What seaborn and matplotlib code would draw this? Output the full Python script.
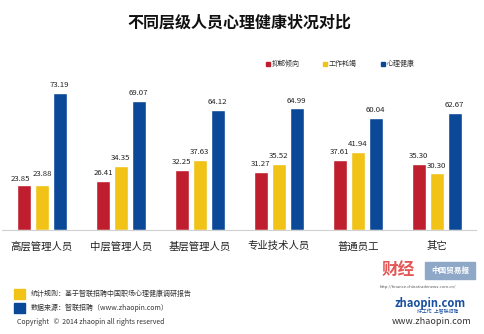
import matplotlib
matplotlib.use("Agg")
import matplotlib.pyplot as plt
import seaborn as sns
import pandas as pd
from matplotlib.patches import Rectangle

categories = ["高层管理人员", "中层管理人员", "基层管理人员", "专业技术人员", "普通员工", "其它"]
series_names = ["抑郁倾向", "工作耗竭", "心理健康"]
depression = [23.85, 26.41, 32.25, 31.27, 37.61, 35.30]
burnout = [23.88, 34.35, 37.63, 35.52, 41.94, 30.30]
health = [73.19, 69.07, 64.12, 64.99, 60.04, 62.67]
colors = ["#BE1E2D", "#F1C317", "#0B4898"]

rows = []
for name, vals in zip(series_names, [depression, burnout, health]):
    for c, v in zip(categories, vals):
        rows.append({"category": c, "series": name, "value": v})
df = pd.DataFrame(rows)

sns.set_theme(style="white")
plt.rcParams["font.family"] = ["Noto Sans CJK SC", "DejaVu Sans"]

fig = plt.figure(figsize=(4.84, 3.34), dpi=100)
fig.patch.set_facecolor("white")
ax = fig.add_axes([0.005, 0.311, 0.979, 0.449])

sns.barplot(data=df, x="category", y="value", hue="series", order=categories,
            hue_order=series_names, palette=colors, width=0.68, gap=0.2,
            saturation=1, ax=ax, legend=False)

label_sets = []
for cont in ax.containers:
    label_sets.append(ax.bar_label(cont, fmt="%.2f", fontsize=5.6, padding=2.5,
                                   color="#222222"))
# the first two labels of the first group sit very close, as in the reference
label_sets[0][0].xyann = (-2.8, 2.0)
label_sets[1][0].xyann = (0.0, 5.5)

ax.set_xlim(-0.5, 5.5)
ax.set_ylim(0, 80)
ax.set_xlabel("")
ax.set_ylabel("")
ax.set_yticks([])
ax.tick_params(axis="x", length=0, labelsize=7.5, pad=8, colors="#222222")
for s in ["top", "left", "right"]:
    ax.spines[s].set_visible(False)
ax.spines["bottom"].set_color("#D0D0D0")
ax.spines["bottom"].set_linewidth(0.8)

fig.text(0.494, 0.934, "不同层级人员心理健康状况对比", ha="center", va="center",
         fontsize=11.5, fontweight="bold", color="#111111")

# legend
leg_x = [266, 323, 381]
for lx, name, col in zip(leg_x, series_names, colors):
    fig.patches.append(Rectangle((lx / 484, 1 - 66 / 334), 4 / 484, 4 / 334,
                                 transform=fig.transFigure, color=col))
    fig.text((lx + 6) / 484, 1 - 64 / 334, name, fontsize=5, va="center",
             ha="left", color="#333333")

# footer
fig.patches.append(Rectangle((14 / 484, 1 - 299 / 334), 11 / 484, 10 / 334,
                             transform=fig.transFigure, color="#F1C317"))
fig.patches.append(Rectangle((14 / 484, 1 - 313 / 334), 11 / 484, 10 / 334,
                             transform=fig.transFigure, color="#0B4898"))
fig.text(31 / 484, 1 - 294 / 334, "统计规则：基于智联招聘中国职场心理健康调研报告",
         fontsize=5, va="center", color="#333333")
fig.text(31 / 484, 1 - 308 / 334, "数据来源：智联招聘（www.zhaopin.com）",
         fontsize=5, va="center", color="#333333")
fig.text(17 / 484, 1 - 322 / 334, "Copyright   ©  2014 zhaopin all rights reserved",
         fontsize=5, va="center", color="#333333")

# right logos
fig.text(382 / 484, 1 - 270 / 334, "财经", fontsize=12, fontweight="bold",
         color="#E03A3A", va="center", ha="left", alpha=0.85)
fig.patches.append(Rectangle((425 / 484, 1 - 279 / 334), 50 / 484, 17 / 334,
                             transform=fig.transFigure, color="#8FA8C8"))
fig.text(450 / 484, 1 - 270 / 334, "中国贸易报", fontsize=5.5, fontweight="bold",
         color="white", va="center", ha="center")
fig.text(380 / 484, 1 - 287 / 334, "http://finance.chinatradenews.com.cn/",
         fontsize=3, color="#555555", va="center", ha="left")
fig.text(430 / 484, 1 - 303 / 334, "zhaopin.com", fontsize=8, fontweight="bold",
         style="italic", color="#1A4FA0", va="center", ha="center")
fig.text(438 / 484, 1 - 312 / 334, "好工作  上智联招聘", fontsize=3.5,
         color="#1A4FA0", va="center", ha="center")
fig.text(432 / 484, 1 - 322 / 334, "www.zhaopin.com", fontsize=6.5,
         color="#333333", va="center", ha="center")

fig.savefig("out.png", dpi=100, facecolor="white")
